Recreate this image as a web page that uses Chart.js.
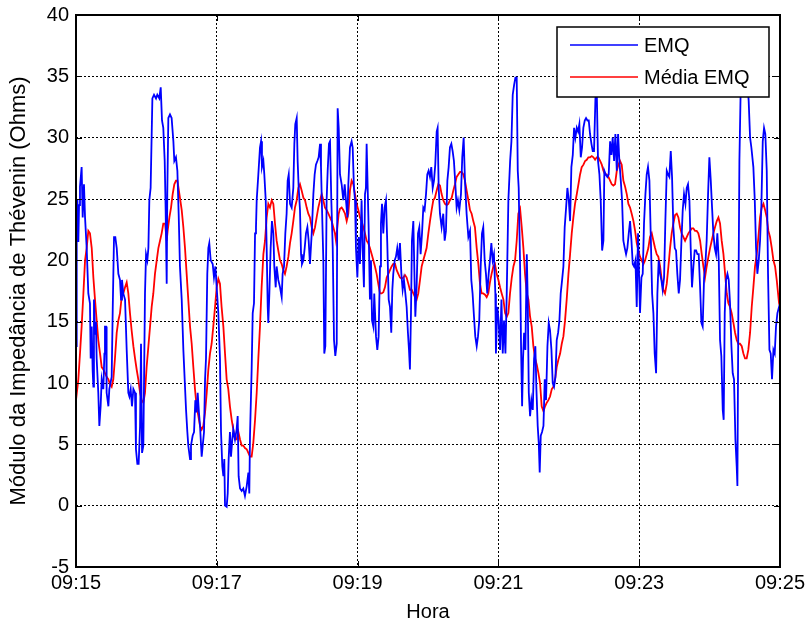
<!DOCTYPE html>
<html>
<head>
<meta charset="utf-8">
<title>Módulo da Impedância de Thévenin</title>
<script src="https://cdn.jsdelivr.net/npm/chart.js@4.4.1/dist/chart.umd.min.js"></script>
<style>
  html, body { margin: 0; padding: 0; background: #fff; }
  #chart { display: block; }
</style>
</head>
<body>
<canvas id="chart" width="807" height="625"></canvas>
<script>
// [seconds after 09:15, ohms]
const emqSamples = [
  [0,13],[0.6,22],[1.2,25],[2,21.5],[2.6,24.5],[3.4,26],[4.8,27.6],[5.7,23.5],[6.8,26.2],[7.7,23.5],[9.1,21],[10.5,17.3],[11.9,16.5],[12.5,12],[13.4,14.6],[14.2,11],[14.8,9.7],[15.3,16.8],[16.2,14],[17,15],[17.6,12],[19,9.2],[19.9,6.5],[21,8.1],[21.9,10.3],[23.3,9.5],[24.2,12.4],[24.7,14.6],[25.6,14.6],[26.1,9.2],[27.6,8.1],[28.4,9.5],[30.4,10.5],[31.3,16],[32.4,21.9],[33.5,21.9],[34.7,21],[36.1,18.9],[37.5,18.4],[38.4,16.8],[39.2,18.4],[40.3,17.3],[41.8,16.8],[43.2,12.7],[44.6,9.2],[45.5,8.9],[46.6,9.5],[47.7,8.1],[48.9,9.5],[50.3,9.2],[51.1,4.6],[52.3,3.4],[53.4,3.4],[54.6,6.5],[55.4,13.2],[56.3,4.3],[57.4,4.9],[58.8,17.3],[59.7,20.5],[60.8,20],[61.7,21],[62.5,24.9],[63.6,25.9],[65.1,33.2],[66.5,33.5],[68.2,33.2],[69.3,33.5],[71,33.2],[72.2,34.1],[73.3,31.4],[74.4,30.8],[75.6,28.1],[76.4,24.1],[77.3,18.1],[77.8,25.4],[78.7,31.6],[80.1,31.9],[81.5,31.6],[83,29.7],[83.8,28.1],[85.2,28.4],[86.4,27.3],[87.5,23.8],[88.6,19.5],[90.1,16.8],[91.5,12.7],[92.9,9.7],[93.8,7.8],[94.9,6],[95.7,4.9],[97.2,3.8],[98,4.9],[99.4,5.7],[100.6,6],[101.7,8.6],[102.8,7.6],[103.7,9.2],[104.8,7.6],[105.7,6.5],[107.1,4],[108,4.9],[109.1,6],[110,10.3],[110.8,12],[111.9,18.9],[112.8,21],[113.6,21.4],[114.8,20],[116.5,19.7],[117.6,18.6],[118.8,19.5],[119.9,17.8],
  [121.3,15.7],[122.7,12],[123.6,6],[124.7,3.2],[125.6,2.4],[126.4,3.8],[127,0],[128.4,-0.1],[129.3,1],[130.1,3.8],[131.2,6],[132.1,4],[133.2,5.4],[134.1,6.2],[135.5,5.4],[136.9,6.2],[137.8,7.3],[138.6,2.4],[139.8,1.4],[141.2,1.2],[142.6,1.4],[144,0.8],[145.5,1.6],[146.9,2.7],[147.7,1],[148.3,5.7],[149.7,11.1],[150.6,15.7],[151.7,16.5],[152.6,22.2],[153.4,22.7],[154,24.9],[155.4,27],[156.8,29.2],[157.7,29.7],[158.5,27.6],[159.7,28.1],[160.5,27],[161.7,24.9],[162.5,21],[163.4,16.2],[163.9,14.9],[164.8,17.3],[165.9,21],[167,23.2],[168.2,22.2],[169,19.5],[170.2,17.8],[171,19.5],[172.4,18.4],[173.9,17.8],[175.3,17],[176.1,18.9],[177.3,19.5],[178.4,22.2],[179.5,23.8],[180.4,26.5],[181.3,27],[182.4,24.6],[183.8,24.3],[185.2,25.9],[186.1,29.5],[186.9,31.1],[188.1,31.6],[188.9,28.1],[189.8,25.9],[190.9,24.1],[191.8,20.5],[192.6,19.7],[193.8,20],[194.9,21],[196,22.2],[197.2,22.7],[198.3,21.6],[199.4,19.7],[200.9,22.2],[202.3,25.4],[203.4,27],[204.5,27.8],[205.7,28.1],[206.8,28.4],[208,29.5],[208.8,27.6],[209.7,24.1],[210.8,20],[211.6,12.4],[212.5,13],[213.6,24.9],[214.5,27.3],[215.6,29.5],[216.5,29.7],[217.6,24.9],[218.8,21],[219.9,13.5],[221,12.2],[222.2,13.2],[223,32.4],[223.9,30.8],[225,27],[226.4,26.2],[227.8,24.9],[229,26.2],[230.1,24.9],[231.3,23.5],[232.1,26.2],[233.5,29.2],[234.9,29.7],[235.8,29.2],[236.9,25.9],[237.8,24.9],[238.6,21],[239.8,18.6],[240.9,21.9],
  [242,19.7],[243.4,24.9],[244.3,21],[245.4,17.8],[246.3,25.4],[247.1,25.9],[247.7,29.5],[248.6,25.9],[249.4,22.7],[250.5,16.8],[251.4,20],[252.3,15.1],[253.4,14.6],[254.2,17.3],[255.7,13.8],[256.8,12.7],[257.9,13.8],[259.1,19.5],[259.9,23],[260.8,24.6],[261.9,22.2],[263,24.3],[264.2,24.9],[265.3,21.4],[266.5,16.8],[267.6,16.2],[268.7,14.1],[269.6,17.6],[270.4,18.9],[271.6,20],[272.7,20.3],[273.8,21],[275,20],[276.1,21.4],[277.3,18.9],[278.4,17.6],[279.5,18.4],[280.7,17.3],[281.8,16.2],[282.9,14.1],[283.8,12.7],[284.6,11.1],[285.5,15.7],[286.3,21.6],[287.5,23.2],[288.3,19.5],[289.2,15.4],[290.3,17.8],[291.5,22.2],[292.6,22.7],[293.7,20.5],[294.9,22.2],[296,24.3],[297.1,24.1],[298.3,25.4],[299.4,27],[300.5,27.3],[301.7,26.8],[302.8,27.6],[304,25.9],[305.1,26.5],[306.2,27.8],[307.4,30.5],[308.2,30.8],[309.1,25.9],[310.2,23.8],[311.6,22.7],[313,23.8],[314.2,21.6],[315.3,22.4],[316.5,26.5],[317.6,27.6],[318.7,29.2],[319.9,29.5],[321,28.9],[322.1,28.1],[323.3,26.2],[324.4,24.3],[325.5,24.9],[326.7,24.1],[328.1,25.4],[329.2,28.4],[330.4,30],[331.5,26.5],[332.9,23.8],[334.4,21.9],[335.8,22.4],[336.9,18.4],[338,17.3],[339.2,15.4],[340.3,13.8],[341.5,13],[342.6,13.8],[343.7,15.1],[344.9,19.5],[346,22.2],[347.1,22.7],[348.3,20],[349.4,18.9],[350.5,17.3],[351.7,18.9],[352.8,20],[354,21.4],[355.1,20],[356.2,20.5],[357.4,17.3],[357.9,12.4],[359.1,16.2],[360.2,15.1],
  [361.4,12.7],[362.6,16.8],[363.7,12.4],[364.8,15.1],[366,12.4],[367.1,17.3],[368.5,24.9],[370,28.1],[371.1,29.7],[372.2,33.5],[373.4,34.3],[374.5,34.9],[375.6,34.9],[376.5,27.3],[377.3,25.9],[378.5,19.5],[379.3,13],[380.2,8.1],[381,12],[381.9,14.1],[383,12.7],[384.2,20.5],[385,16.8],[385.9,9.2],[387,7.3],[388.1,8.6],[389.3,7.8],[390.4,12],[391.5,13],[392.4,9.5],[393.5,6.5],[394.4,5.1],[395.2,2.7],[396.1,5.7],[397.2,6],[398.4,6.5],[399.5,10.3],[400.6,8.6],[401.8,13],[402.9,14.9],[404,14.3],[405.2,12.7],[406.3,10],[407.4,9.7],[408.6,10.5],[409.7,13.5],[410.9,14.1],[412,15.1],[413.1,17.3],[414.3,18.4],[415.4,19.5],[416.5,22.7],[417.7,24.3],[418.8,25.9],[420,24.9],[421.1,23.2],[422.2,27.6],[423.4,28.6],[424.5,30.8],[425.6,30],[426.8,30.8],[427.9,30.5],[429,31.1],[430.2,28.4],[431.3,29.2],[432.4,30.8],[433.6,31.4],[434.7,31.6],[435.9,31.4],[437,31.4],[438.1,30.3],[439.3,29.5],[440.4,28.9],[441.5,28.9],[442.7,33.2],[443.8,34],[444.9,28.1],[446.1,27],[447.2,24.9],[448.4,20.8],[449.5,21.6],[450.3,27.3],[451.5,27],[452.9,26.8],[454,27],[455.2,29.7],[456.3,28.6],[457.4,30],[458.6,28.1],[459.7,30.3],[460.9,27.3],[462,30.3],[463.1,28.1],[464.3,26.5],[465.4,24.9],[466.5,21.6],[467.7,21],[468.8,20.5],[469.9,21],[471.1,22.2],[472.2,23.2],[473.4,21.6],[474.5,19.7],[475.6,19.5],[476.8,20],[477.9,16.2],[479,22.2],
  [480.7,15.7],[481.9,18.6],[483,18.9],[484.1,23],[485.3,25.4],[486.4,27],[487.5,27.6],[488.7,26.5],[489.8,22.2],[491,17.3],[492.1,15.7],[493.2,12.4],[494.4,10.8],[495.5,17.3],[496.6,20],[497.8,18.9],[498.9,18.4],[500,17.6],[501.2,18.6],[502.3,23.2],[503.5,27.3],[504.6,27],[505.7,26.8],[506.9,28.9],[508,26.8],[509.1,22.7],[510.3,21],[511.4,20.8],[512.5,18.9],[513.7,17.3],[514.8,18.4],[516,21.6],[517.1,24.1],[518.2,25.4],[519.4,24.6],[520.5,25.9],[521.6,26.2],[522.8,24.9],[523.9,21],[525,17.8],[526.2,19.5],[527.3,20.8],[528.5,20.8],[529.6,20.5],[530.7,20.5],[531.9,17.8],[533,14.9],[534.1,14.6],[535.3,18.6],[536.4,19.7],[537.5,21.6],[538.7,25.4],[539.8,28.4],[541,26.5],[542.1,24.3],[543.2,22.2],[544.4,21],[545.5,20.5],[546.6,22.2],[547.8,20],[548.9,13.5],[550,12.2],[551.2,7.8],[552,7],[552.9,15.7],[554,18.4],[555.2,18.9],[556.3,18.4],[557.4,16.5],[558.6,13],[559.7,10.8],[560.8,10.3],[562,5.4],[563.1,3.2],[563.7,1.6],[564.5,15.7],[565.4,28.1],[566.5,34],[567.7,37.3],[569.4,37],[571.1,35],[572.2,34.6],[573.3,33],[574.5,30],[575.6,29.2],[577.3,27.6],[578.5,24.9],[579.6,21],[580.7,18.9],[581.9,20],[583,21.6],[584.1,24.3],[585.3,29.7],[586.4,30.8],[587.5,30.3],[588.7,27.3],[589.8,18.9],[591,12.7],[592.1,12.4],[593.2,10.3],[594.4,12.7],[595.5,12.4],[596.6,14.6],[597.8,15.7],[599.2,16.2],[600,16]
];

// moving average of EMQ, same time base
const mediaSamples = [
  [0,8.6],[2,10.3],[3.4,12.4],[4.8,14.6],[6.3,17.3],[7.7,20],[9.1,21],[10.5,22.4],[11.9,22.2],[13.4,21],[14.8,18.6],[16.2,16.8],[17.6,15.1],[19,13.5],[20.5,12.4],[21.9,11.3],[23.3,11.1],[24.7,10.8],[26.1,10.5],[27.6,10.3],[29,9.9],[30.4,9.7],[31.8,10.3],[33.2,12],[34.7,14.1],[36.1,15.1],[37.5,15.7],[38.9,17],[40.3,17.3],[41.8,17.8],[43.2,18.2],[44.6,17.3],[46,15.7],[47.4,14.3],[48.9,13],[50.3,12],[51.7,11.1],[53.1,10.3],[54.6,9.2],[56,8.6],[57.4,8.4],[58.8,9.2],[60.2,11.3],[61.7,13],[63.1,14.6],[64.5,16.2],[65.9,17.3],[67.3,18.9],[68.8,20],[70.2,21],[71.6,21.6],[73,22.2],[74.4,23],[75.9,23],[77.3,21.6],[78.1,22.4],[79.6,23.5],[81,24.3],[82.4,25.4],[83.8,26.2],[85.2,26.5],[86.4,26.5],[87.2,26],[88.6,25.1],[90.1,24.1],[91.5,22.7],[92.9,21],[94.3,18.9],[95.7,16.8],[97.2,14.6],[98.6,13.2],[100,11.3],[101.4,9.5],[102.8,8.1],[104.3,7.3],[105.7,6.5],[107.1,6.2],[108.5,6.5],[110,7.6],[111.4,9.2],[112.8,11.1],[114.2,12.4],[115.6,13.2],[117,14.6],[118.5,16.2],[119.9,17.8],
  [121.3,18.5],[122.7,18.1],[124.1,16.2],[125.6,14.6],[127,12.4],[128.4,10.3],[129.8,9.5],[131.2,8.1],[132.7,7],[134.1,6.2],[135.5,5.4],[136.9,5.4],[138.4,6],[139.8,5.4],[141.2,4.9],[142.6,4.9],[144,4.7],[145.5,4.6],[146.9,4.3],[148.3,4],[149.7,4],[151.1,5.1],[152.6,7],[154,9.2],[155.4,12],[156.8,14.6],[158.2,17.8],[159.7,20.5],[161.1,21.6],[162.5,23.5],[163.9,24.6],[165.3,24.3],[166.8,24.9],[168.2,24.6],[169.6,23],[171,21.6],[172.4,20.8],[173.9,20],[175.3,19.7],[176.7,19.2],[178.1,18.9],[179.5,19.5],[181,20.3],[182.4,21.4],[183.8,22.2],[185.2,23.2],[186.6,24.3],[188.1,24.9],[189.5,25.9],[190.9,26.2],[192.3,25.7],[193.8,25.1],[195.2,24.9],[196.6,24.3],[198,23.8],[199.4,23.5],[200.9,22.7],[202.3,22.2],[203.7,22.7],[205.1,23.5],[206.5,24.3],[208,24.9],[209.4,25.4],[210.8,24.9],[212.2,24.3],[213.6,24.1],[215.1,23.8],[216.5,23.5],[217.9,23.2],[219.3,22.7],[220.7,22.2],[221.6,21.6],[222.7,22.7],[223.9,23.8],[225,24.2],[226.4,24.3],[227.8,24.1],[229.3,23.8],[230.7,23.2],[232.1,23.8],[233.5,25.7],[234.9,26.5],[236.4,26.2],[237.8,25.4],[239.2,24.6],[240.9,24],
  [242,23.5],[243.4,23.2],[244.9,22.7],[246.3,22.2],[247.7,21.6],[249.1,21.4],[250.5,21],[252,20.5],[253.4,20],[254.8,19.5],[256.2,18.9],[257.6,18.1],[259.1,17.3],[260.5,17.3],[261.9,17.4],[263.3,17.8],[264.8,18.6],[266.2,18.9],[267.6,19.2],[269,19.5],[270.4,19.7],[271.9,19.7],[273.3,19.2],[274.7,18.9],[276.1,18.6],[277.5,18.5],[279,18.6],[280.4,18.8],[281.8,18.6],[283.2,18.1],[284.6,17.6],[286.1,17.6],[287.5,17.3],[288.9,17],[290.3,16.8],[291.7,17.3],[293.2,18.4],[294.6,19.5],[296,20],[297.4,20.5],[298.8,21],[300.3,22.2],[301.7,23.2],[303.1,24.1],[304.5,24.9],[305.9,25.1],[307.4,25.7],[308.8,26.2],[310.2,26.1],[311.6,25.4],[313,24.9],[314.5,24.6],[315.9,24.5],[317.3,24.6],[318.7,24.9],[320.2,25.1],[321.6,25.7],[323,26.2],[324.4,26.8],[325.8,27],[327.3,27.2],[328.7,27.2],[330.1,27],[331.5,26.5],[332.9,25.7],[334.4,24.9],[335.8,24.1],[337.2,23.8],[338.6,23.2],[340,22.7],[341.5,21],[342.9,19.7],[344.3,18.1],[345.7,17.3],[347.1,17.3],[348.6,17.2],[350,17],[351.4,17.3],[352.8,18.2],[354.2,18.9],[355.7,19.5],[357.1,19.7],[358.5,18.9],[360,18.4],
  [361.4,17.8],[362.8,17.3],[364.3,16.8],[365.7,15.7],[367.1,15.4],[368.5,15.7],[369.9,17.3],[371.4,18.6],[372.8,19.5],[374.2,20],[375.6,21.6],[377,23.8],[378.5,24.2],[379.9,22.7],[381.3,21],[382.7,18.9],[384.2,17.3],[385.6,16.8],[387,15.4],[388.4,14.6],[389.8,13],[391.3,12],[392.7,11.5],[394.1,10.8],[395.5,10],[396.9,8.1],[398.4,7.7],[399.8,8.1],[401.2,8.4],[402.6,8.6],[404,8.9],[405.5,9.5],[406.9,9.7],[408.3,10.3],[409.7,11.3],[411.1,11.9],[412.6,12.4],[414,13.2],[415.4,13.8],[416.8,15.1],[418.2,16.8],[419.7,18.9],[421.1,20.5],[422.5,22.2],[423.9,23.5],[425.3,24.6],[426.8,25.4],[428.2,26.2],[429.6,27],[431,27.6],[432.5,27.8],[433.9,28.1],[435.3,28.2],[436.7,28.4],[438.1,28.4],[439.6,28.5],[441,28.4],[442.4,28.2],[443.8,28.4],[445.2,28.4],[446.7,28.1],[448.1,27.8],[449.5,27.3],[450.9,27],[452.3,27],[453.8,26.8],[455.2,26.5],[456.6,26.2],[458,26.1],[459.4,26.2],[460.9,27.3],[462.3,27.8],[463.7,28.1],[465.1,27.8],[466.5,26.5],[468,26],[469.4,25.4],[470.8,24.6],[472.2,24.3],[473.6,23.8],[475.1,23.2],[476.5,22.4],[477.9,21.4],[479.3,20.8],
  [480.7,20.3],[482.1,20],[483.6,19.7],[485,20],[486.4,20.5],[487.8,21],[489.2,21.9],[490.7,22.2],[492.1,21.6],[493.5,21],[494.9,20.5],[496.3,20.3],[497.8,19.5],[499.2,18.4],[500.6,17.6],[502,17.3],[503.5,18.1],[504.9,19.5],[506.3,21],[507.7,22.2],[509.1,23],[510.6,23.7],[512,23.8],[513.4,23.5],[514.8,22.7],[516.2,22.2],[517.7,21.9],[519.1,21.6],[520.5,21.9],[521.9,22.2],[523.3,22.4],[524.8,22.6],[526.2,22.6],[527.6,22.4],[529,22.4],[530.4,22.2],[531.9,21.6],[533.3,20.5],[534.7,19.5],[536.1,18.6],[537.5,19.5],[539,20.3],[540.4,21],[541.8,21.6],[543.2,22.2],[544.6,22.7],[546.1,23.2],[547.5,23.5],[548.9,23],[550.3,21.6],[551.8,20.5],[553.2,18.9],[554.6,17.3],[556,16.5],[557.4,16.2],[558.8,15.7],[560.3,14.9],[561.7,14.1],[563.1,13.5],[564.5,13.2],[565.9,13.2],[567.4,13],[568.8,12.4],[570.2,12],[571.6,12],[573,12.7],[574.5,14.1],[575.9,16.2],[577.3,17.8],[578.7,19.5],[580.2,20.5],[581.6,21.9],[583,23.5],[584.4,24.3],[585.9,24.6],[587.3,24.1],[588.7,23.5],[590.1,22.4],[591.5,21.9],[593,21],[594.4,20],[595.8,19.5],[597.2,18.4],[599.2,16.5],[600,16.3]
];

const timeTicks = [0, 120, 240, 360, 480, 600];
const timeLabels = ['09:15', '09:17', '09:19', '09:21', '09:23', '09:25'];
const seriesNames = ['EMQ', 'Média EMQ'];
const seriesColors = ['#0000ff', '#ff0000'];

const FONT = "'Liberation Sans', Arial, sans-serif";

// axes box + inward tick marks, like the classic plot frame
const frameBox = {
  id: 'frameBox',
  afterDatasetsDraw(chart) {
    const { ctx, chartArea: a, scales } = chart;
    ctx.save();
    ctx.strokeStyle = '#000';
    ctx.lineWidth = 1;
    ctx.beginPath();
    scales.x.ticks.forEach(t => {
      const px = Math.round(scales.x.getPixelForValue(t.value)) + 0.5;
      ctx.moveTo(px, a.bottom); ctx.lineTo(px, a.bottom - 6);
      ctx.moveTo(px, a.top); ctx.lineTo(px, a.top + 6);
    });
    scales.y.ticks.forEach(t => {
      const py = Math.round(scales.y.getPixelForValue(t.value)) + 0.5;
      ctx.moveTo(a.left, py); ctx.lineTo(a.left + 6, py);
      ctx.moveTo(a.right, py); ctx.lineTo(a.right - 6, py);
    });
    ctx.stroke();
    ctx.lineWidth = 2;
    ctx.strokeRect(a.left, a.top, a.right - a.left, a.bottom - a.top);
    ctx.restore();
  }
};

// legend box in the upper right corner of the plot
const legendBox = {
  id: 'legendBox',
  afterDraw(chart) {
    const { ctx, chartArea: a } = chart;
    const w = 212, h = 70;
    const x = a.right - 11 - w, y = a.top + 12;
    ctx.save();
    ctx.fillStyle = '#fff';
    ctx.fillRect(x, y, w, h);
    ctx.strokeStyle = '#000';
    ctx.lineWidth = 1.5;
    ctx.strokeRect(x, y, w, h);
    ctx.font = '20px ' + FONT;
    ctx.textBaseline = 'middle';
    chart.data.datasets.forEach((ds, i) => {
      const ly = y + 18 + i * 32;
      ctx.strokeStyle = ds.borderColor;
      ctx.lineWidth = 1.5;
      ctx.beginPath();
      ctx.moveTo(x + 13, ly);
      ctx.lineTo(x + 81, ly);
      ctx.stroke();
      ctx.fillStyle = '#000';
      ctx.fillText(ds.label, x + 87, ly + 1);
    });
    ctx.restore();
  }
};

const toPoints = rows => rows.map(([t, v]) => ({ x: t, y: v }));

new Chart(document.getElementById('chart'), {
  type: 'line',
  data: {
    datasets: [
      {
        label: seriesNames[0],
        data: toPoints(emqSamples),
        borderColor: seriesColors[0],
        borderWidth: 1.8,
        pointRadius: 0,
        tension: 0
      },
      {
        label: seriesNames[1],
        data: toPoints(mediaSamples),
        borderColor: seriesColors[1],
        borderWidth: 1.8,
        pointRadius: 0,
        tension: 0
      }
    ]
  },
  options: {
    responsive: false,
    animation: false,
    events: [],
    layout: { padding: { top: 15, right: 27, left: 0, bottom: 0 } },
    plugins: {
      legend: { display: false },
      tooltip: { enabled: false }
    },
    scales: {
      x: {
        type: 'linear',
        min: 0,
        max: 600,
        afterBuildTicks: scale => { scale.ticks = timeTicks.map(v => ({ value: v })); },
        afterFit: scale => { scale.height = 58; scale.paddingLeft = 0; scale.paddingRight = 0; },
        ticks: {
          callback: v => timeLabels[timeTicks.indexOf(v)],
          color: '#000',
          font: { family: FONT, size: 20 },
          padding: 4,
          maxRotation: 0,
          autoSkip: false
        },
        grid: { color: '#000', lineWidth: 1, drawTicks: false, borderDash: [2, 2] },
        border: { display: false, dash: [2, 2] },
        title: {
          display: true,
          text: 'Hora',
          color: '#000',
          font: { family: FONT, size: 20 },
          padding: { top: 0, bottom: 1 }
        }
      },
      y: {
        min: -5,
        max: 40,
        afterFit: scale => { scale.width = 76; scale.paddingTop = 0; scale.paddingBottom = 0; },
        ticks: {
          stepSize: 5,
          color: '#000',
          font: { family: FONT, size: 20 },
          padding: 7
        },
        grid: { color: '#000', lineWidth: 1, drawTicks: false, borderDash: [2, 2] },
        border: { display: false, dash: [2, 2] },
        title: {
          display: true,
          text: 'Módulo da Impedância de Thévenin (Ohms)',
          color: '#000',
          font: { family: FONT, size: 22 },
          padding: { top: 6, bottom: 0 }
        }
      }
    }
  },
  plugins: [frameBox, legendBox]
});
</script>
</body>
</html>
